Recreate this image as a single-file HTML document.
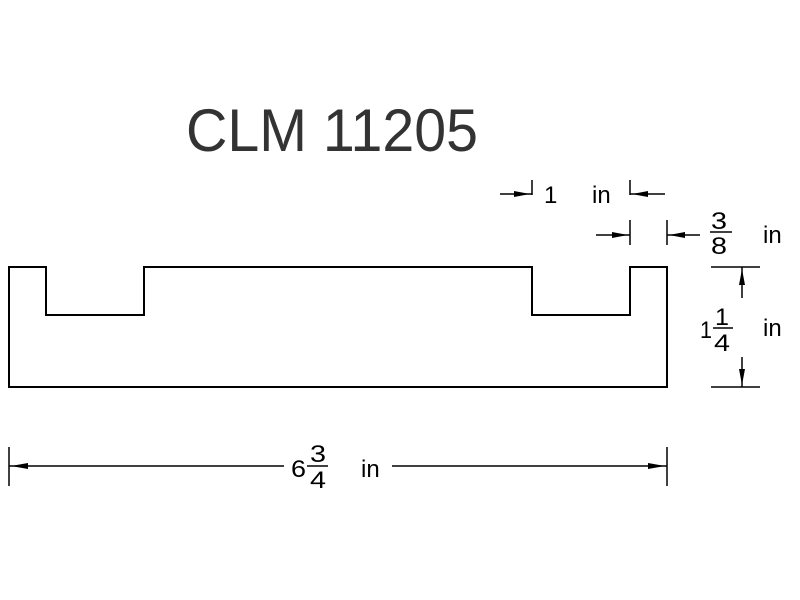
<!DOCTYPE html>
<html><head><meta charset="utf-8"><style>
html,body{margin:0;padding:0;background:#fff;width:800px;height:600px;overflow:hidden}
svg{display:block}
text{font-family:"Liberation Sans",sans-serif;fill:#000}
</style></head><body>
<svg width="800" height="600" viewBox="0 0 800 600" xmlns="http://www.w3.org/2000/svg">
<g stroke="#000" stroke-width="2" fill="none">
<path d="M9 267 H46 V315 H144 V267 H532 V315 H630 V267 H667 V387 H9 Z"/>
</g>
<g stroke="#000" stroke-width="1.5" fill="none">
<path d="M532 180 V195 M630 180 V195 M500 194 H532 M630 194 H665"/>
<path d="M630 220 V245 M667 220 V245 M596 235 H630 M667 235 H700"/>
<path d="M711 267 H760 M711 387 H760 M742 267 V298 M742 357 V387"/>
<path d="M9 447 V486 M667 447 V486 M9 466 H284 M392 466 H667"/>
</g>
<g fill="#000">
<path d="M530 194 L514 191 L514 197 Z"/>
<path d="M632 194 L648 191 L648 197 Z"/>
<path d="M628 235 L612 232 L612 238 Z"/>
<path d="M669 235 L685 232 L685 238 Z"/>
<path d="M742 269 L739 285 L745 285 Z"/>
<path d="M742 385 L739 369 L745 369 Z"/>
<path d="M11 466 L28 463 L28 469 Z"/>
<path d="M665 466 L648 463 L648 469 Z"/>
</g>
<text x="186" y="151" font-size="60" style="fill:#333" textLength="292" lengthAdjust="spacingAndGlyphs">CLM 11205</text>
<text x="544" y="203" font-size="24">1</text>
<text x="592" y="203" font-size="24">in</text>
<g font-size="24">
<text x="711" y="229" textLength="16" lengthAdjust="spacingAndGlyphs">3</text>
<text x="711" y="254" textLength="16" lengthAdjust="spacingAndGlyphs">8</text>
<text x="763" y="243">in</text>
<text x="700" y="338" textLength="12" lengthAdjust="spacingAndGlyphs">1</text>
<text x="715" y="325" textLength="14" lengthAdjust="spacingAndGlyphs">1</text>
<text x="714" y="351" textLength="16" lengthAdjust="spacingAndGlyphs">4</text>
<text x="763" y="336">in</text>
<text x="291" y="477" textLength="15" lengthAdjust="spacingAndGlyphs">6</text>
<text x="310" y="462" textLength="16" lengthAdjust="spacingAndGlyphs">3</text>
<text x="310" y="488" textLength="16" lengthAdjust="spacingAndGlyphs">4</text>
<text x="361" y="477">in</text>
</g>
<line x1="710" y1="232" x2="732" y2="232" stroke="#000" stroke-width="1.5"/>
<line x1="713" y1="328" x2="733" y2="328" stroke="#000" stroke-width="1.5"/>
<line x1="307" y1="466" x2="328" y2="466" stroke="#000" stroke-width="1.5"/>
</svg>
</body></html>
